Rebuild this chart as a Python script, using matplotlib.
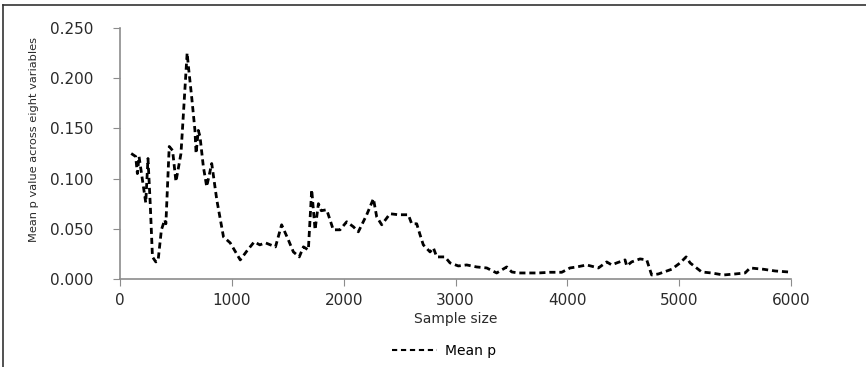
#!/usr/bin/env python3

import matplotlib
matplotlib.use("Agg")
import matplotlib.pyplot as plt
from matplotlib.lines import Line2D

# Values (sample size, mean p).
sample_size = [100, 140, 155, 170, 200, 230, 250, 270, 290, 320, 340, 370,
               400, 410, 440, 470, 500, 545, 600, 615, 640, 670, 680, 700,
               715, 745, 775, 820, 865, 925, 985, 1075, 1135, 1200, 1250,
               1300, 1390, 1445, 1505, 1550, 1603, 1640, 1684, 1714, 1744,
               1774, 1800, 1848, 1907, 1967, 2027, 2087, 2131, 2206, 2266,
               2295, 2340, 2414, 2489, 2578, 2608, 2653, 2683, 2712, 2772,
               2802, 2832, 2906, 2951, 3025, 3100, 3189, 3279, 3368, 3458,
               3503, 3562, 3637, 3740, 3845, 3950, 4024, 4084, 4173, 4278,
               4352, 4397, 4441, 4516, 4531, 4575, 4650, 4710, 4754, 4814,
               4933, 5008, 5062, 5098, 5201, 5290, 5395, 5499, 5589, 5634,
               5753, 5857, 5976]
mean_p = [0.125, 0.122, 0.105, 0.122, 0.099, 0.076, 0.120, 0.075, 0.022,
          0.017, 0.018, 0.049, 0.059, 0.055, 0.132, 0.128, 0.097, 0.125,
          0.225, 0.208, 0.182, 0.148, 0.125, 0.148, 0.142, 0.112, 0.092,
          0.115, 0.079, 0.042, 0.036, 0.019, 0.028, 0.037, 0.034, 0.036,
          0.032, 0.054, 0.039, 0.027, 0.022, 0.032, 0.029, 0.089, 0.049,
          0.075, 0.068, 0.069, 0.049, 0.049, 0.057, 0.052, 0.047, 0.064,
          0.080, 0.062, 0.054, 0.065, 0.064, 0.064, 0.055, 0.055, 0.044,
          0.034, 0.027, 0.031, 0.022, 0.022, 0.016, 0.013, 0.014, 0.012,
          0.011, 0.006, 0.012, 0.007, 0.006, 0.006, 0.006, 0.0067, 0.0067,
          0.011, 0.012, 0.014, 0.011, 0.017, 0.014, 0.016, 0.019, 0.013,
          0.017, 0.020, 0.019, 0.004, 0.005, 0.0097, 0.016, 0.022, 0.016,
          0.007, 0.006, 0.004, 0.005, 0.006, 0.011, 0.0097, 0.008, 0.007]

x_ticks = [0, 1000, 2000, 3000, 4000, 5000, 6000]
y_ticks = [0.0, 0.05, 0.10, 0.15, 0.20, 0.25]

fig = plt.figure(figsize=(8.66, 3.67), dpi=100)
ax = fig.add_axes([0.1386, 0.2398, 0.7748, 0.6839])

dash = (0, (2.2, 1.4))
ax.plot(sample_size, mean_p, color="black", linewidth=2, linestyle=dash)

ax.set_xlim(0, 6000)
ax.set_ylim(0, 0.25)
ax.set_xticks(x_ticks)
ax.set_yticks(y_ticks)
ax.set_yticklabels(["%.3f" % v for v in y_ticks])
for side in ("top", "right"):
    ax.spines[side].set_visible(False)
for side in ("left", "bottom"):
    ax.spines[side].set_color("#8c8c8c")
    ax.spines[side].set_linewidth(1.2)
ax.tick_params(direction="out", length=5, color="#8c8c8c", labelsize=11,
               labelcolor="#2a2a2a")
ax.tick_params(axis="y", pad=14)
ax.tick_params(axis="x", pad=5)

ax.set_xlabel("Sample size", fontsize=10, labelpad=3, color="#2a2a2a")
ax.set_ylabel("Mean p value across eight variables", fontsize=8.2,
              color="#2a2a2a")
ax.yaxis.set_label_coords(-0.121, 0.554)

handle = Line2D([], [], color="black", linewidth=1.5, linestyle=(0, (2.5, 1.8)))
fig.legend([handle], ["Mean p"], loc="center", bbox_to_anchor=(0.513, 0.043),
           frameon=False, fontsize=10, handlelength=3.2, handletextpad=0.6)

# Outer frame: top and left edges only, as in the reference.
fig.add_artist(Line2D([3 / 866, 1.0], [1 - 5 / 367, 1 - 5 / 367],
                      transform=fig.transFigure, color="#333333", linewidth=1.2))
fig.add_artist(Line2D([3 / 866, 3 / 866], [0.0, 1 - 5 / 367],
                      transform=fig.transFigure, color="#333333", linewidth=1.2))

fig.savefig("out.png", dpi=100)
